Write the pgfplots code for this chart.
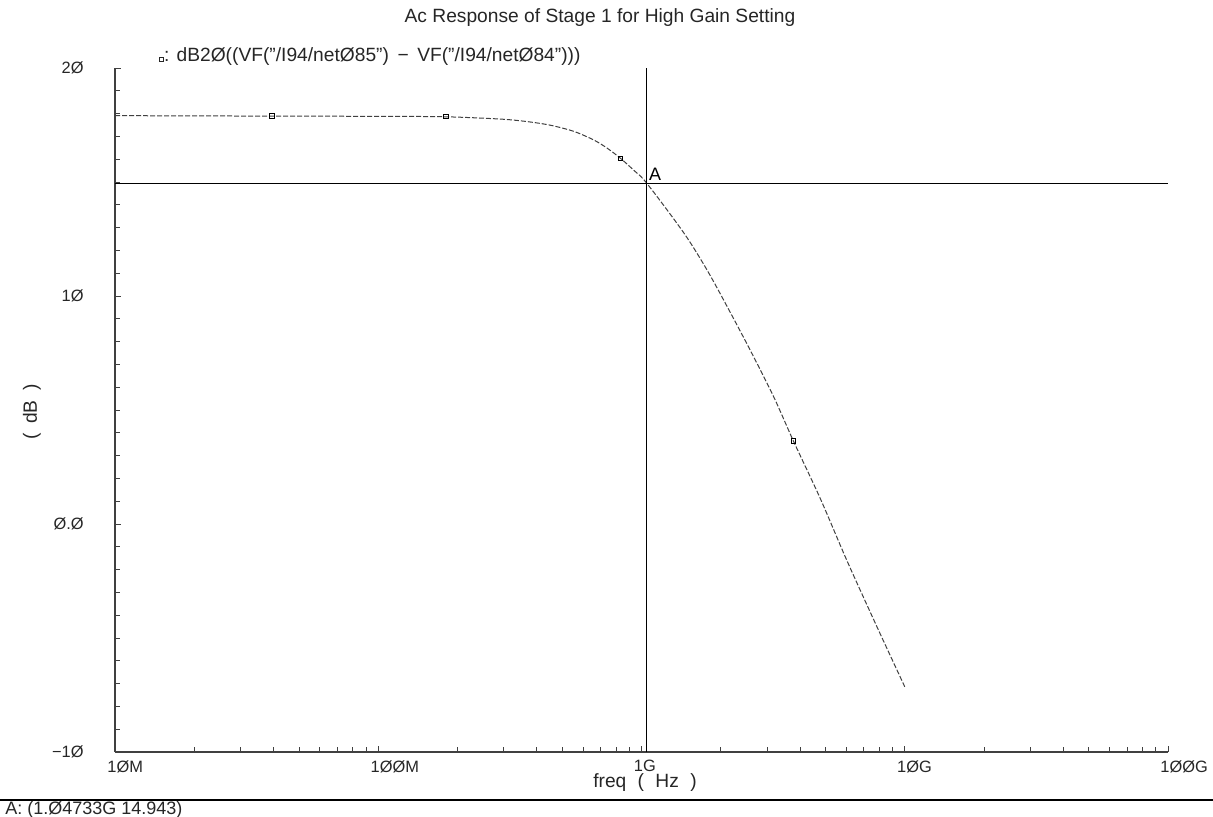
\documentclass[border=0pt]{standalone}
\usepackage{fontspec}
\setmainfont{Liberation Sans}
\usepackage{pgfplots}
\pgfplotsset{compat=1.18}
\begin{document}
\begin{tikzpicture}[x=1pt,y=1pt,font=\fontsize{9.6}{11}\selectfont]
\useasboundingbox (-57.5,-32) rectangle (549,376);
\begin{axis}[
  at={(0,0)}, anchor=south west,
  scale only axis, width=526.5pt, height=342pt,
  xmode=log, xmin=1e7, xmax=1e11, ymin=-10, ymax=20,
  axis x line=bottom, axis y line=left,
  axis line style={-, line width=0.6pt, black!75},
  tick align=inside,
  tick style={black!75, line width=0.5pt},
  major tick length=3pt, minor tick length=2.5pt,
  xtick={1e7,1e8,1e9,1e10,1e11},
  xticklabels={1ØM,1ØØM,1G,1ØG,1ØØG},
  minor xtick={2e7,3e7,4e7,5e7,6e7,7e7,8e7,9e7,
               2e8,3e8,4e8,5e8,6e8,7e8,8e8,9e8,
               2e9,3e9,4e9,5e9,6e9,7e9,8e9,9e9,
               2e10,3e10,4e10,5e10,6e10,7e10,8e10,9e10},
  ytick={-10,0,10,20},
  yticklabels={−1Ø,Ø.Ø,1Ø,2Ø},
  minor ytick={-9,-8,-7,-6,-5,-4,-3,-2,-1,1,2,3,4,5,6,7,8,9,11,12,13,14,15,16,17,18,19},
  xticklabel style={anchor=north west, inner sep=0pt, xshift=-4pt, yshift=-4pt},
  yticklabel style={anchor=east, inner sep=0pt, xshift=-15.5pt},
  every tick label/.append style={font=\fontsize{8.2}{9}\selectfont, black!85},
  clip=false,
]
\addplot[black!75, line width=0.5pt, dash pattern=on 2.5pt off 1pt, smooth, tension=0.5] coordinates {
(1e7,17.91) (3.954e7,17.89) (1e8,17.88) (1.807e8,17.86) (2.911e8,17.76) (3.673e8,17.65)
(4.508e8,17.49) (5.534e8,17.22) (6.592e8,16.84) (7.413e8,16.48) (8.318e8,16.04)
(9.333e8,15.52) (1.04733e9,14.943) (1.449e9,12.76) (1.778e9,11.12) (2.148e9,9.39)
(2.594e9,7.60) (3.177e9,5.58) (3.776e9,3.64) (4.775e9,1.12) (6.026e9,-1.60)
(7.834e9,-4.50) (1e10,-7.14)
};
\addplot[only marks, mark=square, mark size=1.1pt, black, mark options={line width=0.5pt}] coordinates {
(3.954e7,17.89) (1.807e8,17.86) (8.318e8,16.04) (3.776e9,3.64)
};
\addplot[black, line width=0.6pt] coordinates {(1e7,14.943) (1e11,14.943)};
\addplot[black, line width=0.6pt] coordinates {(1.04733e9,-10) (1.04733e9,20)};
\node[anchor=south west, inner sep=1pt, font=\fontsize{9}{10}\selectfont] at (axis cs:1.04733e9,14.943) {A};
\end{axis}
\node[black!85] at (242.5,367) {Ac Response of Stage 1 for High Gain Setting};
\node[anchor=west, inner sep=0pt, black!85] at (22,347.5) {\tikz\draw[line width=0.4pt] (0,0) rectangle (2pt,2pt);: dB2Ø((VF("/I94/netØ85") \,−\, VF("/I94/netØ84")))};
\node[rotate=90, black!85] at (-41.5,170) {(\hspace{2pt} dB\hspace{2pt} )};
\node[black!85] at (265,-15.5) {freq\hspace{3pt} (\hspace{3pt} Hz\hspace{3pt} )};
\draw[line width=0.6pt] (-57.5,-24) -- (549,-24);
\node[anchor=west, inner sep=0pt, black!85, font=\fontsize{9}{10}\selectfont] at (-55,-29) {A: (1.Ø4733G 14.943)};
\end{tikzpicture}
\end{document}
